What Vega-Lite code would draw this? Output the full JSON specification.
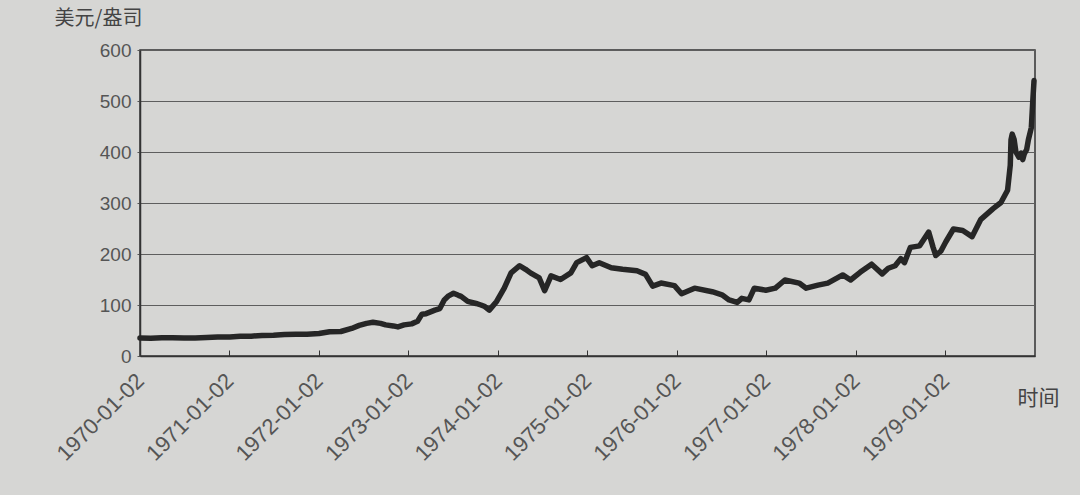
{
  "$schema": "https://vega.github.io/schema/vega-lite/v6.json",
  "autosize": "none",
  "width": 895,
  "height": 306,
  "padding": {"left": 140, "top": 50, "right": 45, "bottom": 139},
  "background": "#d6d6d4",
  "config": {
    "view": {"stroke": "#333333", "strokeWidth": 1.5, "fill": "#d6d6d4"},
    "font": "Liberation Sans"
  },
  "data": {
    "values": [
      {"date": "1970-01-02", "price": 35.2},
      {"date": "1970-02-15", "price": 35.0},
      {"date": "1970-04-01", "price": 35.6},
      {"date": "1970-05-15", "price": 35.8},
      {"date": "1970-07-01", "price": 35.3},
      {"date": "1970-08-15", "price": 35.4},
      {"date": "1970-10-01", "price": 36.2},
      {"date": "1970-11-15", "price": 37.4},
      {"date": "1971-01-04", "price": 37.4},
      {"date": "1971-02-15", "price": 38.8},
      {"date": "1971-04-01", "price": 38.9},
      {"date": "1971-05-15", "price": 40.2},
      {"date": "1971-07-01", "price": 40.8},
      {"date": "1971-08-15", "price": 42.0},
      {"date": "1971-10-01", "price": 42.5},
      {"date": "1971-11-15", "price": 42.8},
      {"date": "1972-01-03", "price": 44.0},
      {"date": "1972-02-15", "price": 47.5},
      {"date": "1972-04-01", "price": 48.0},
      {"date": "1972-05-15", "price": 54.0},
      {"date": "1972-06-15", "price": 60.0},
      {"date": "1972-07-15", "price": 64.0},
      {"date": "1972-08-10", "price": 66.0},
      {"date": "1972-09-10", "price": 64.0},
      {"date": "1972-10-01", "price": 61.0},
      {"date": "1972-11-01", "price": 59.0},
      {"date": "1972-11-20", "price": 57.0},
      {"date": "1972-12-15", "price": 61.0},
      {"date": "1973-01-15", "price": 63.0},
      {"date": "1973-02-08", "price": 68.0},
      {"date": "1973-02-26", "price": 82.0},
      {"date": "1973-03-15", "price": 83.0},
      {"date": "1973-04-20", "price": 90.0},
      {"date": "1973-05-10", "price": 93.0},
      {"date": "1973-05-28", "price": 110.0},
      {"date": "1973-06-15", "price": 118.0},
      {"date": "1973-07-05", "price": 123.0},
      {"date": "1973-07-25", "price": 119.0},
      {"date": "1973-08-05", "price": 117.0},
      {"date": "1973-09-01", "price": 107.0},
      {"date": "1973-10-05", "price": 103.0},
      {"date": "1973-10-25", "price": 100.0},
      {"date": "1973-11-10", "price": 97.0},
      {"date": "1973-11-28", "price": 90.0},
      {"date": "1973-12-28", "price": 107.0},
      {"date": "1974-01-28", "price": 133.0},
      {"date": "1974-02-25", "price": 163.0},
      {"date": "1974-04-01", "price": 177.0},
      {"date": "1974-04-25", "price": 170.0},
      {"date": "1974-05-15", "price": 163.0},
      {"date": "1974-06-20", "price": 153.0},
      {"date": "1974-07-12", "price": 128.0},
      {"date": "1974-08-07", "price": 157.0},
      {"date": "1974-09-15", "price": 150.0},
      {"date": "1974-10-27", "price": 163.0},
      {"date": "1974-11-20", "price": 183.0},
      {"date": "1974-12-30", "price": 193.0},
      {"date": "1975-01-22", "price": 177.0},
      {"date": "1975-02-20", "price": 183.0},
      {"date": "1975-04-10", "price": 173.0},
      {"date": "1975-05-26", "price": 170.0},
      {"date": "1975-07-24", "price": 167.0},
      {"date": "1975-08-28", "price": 160.0},
      {"date": "1975-09-26", "price": 137.0},
      {"date": "1975-10-30", "price": 143.0},
      {"date": "1975-12-24", "price": 138.0},
      {"date": "1976-01-22", "price": 122.0},
      {"date": "1976-03-15", "price": 133.0},
      {"date": "1976-05-26", "price": 126.0},
      {"date": "1976-07-05", "price": 120.0},
      {"date": "1976-08-03", "price": 110.0},
      {"date": "1976-09-05", "price": 105.0},
      {"date": "1976-09-24", "price": 113.0},
      {"date": "1976-10-23", "price": 110.0},
      {"date": "1976-11-14", "price": 133.0},
      {"date": "1976-12-31", "price": 129.0},
      {"date": "1977-02-08", "price": 133.0},
      {"date": "1977-03-19", "price": 149.0},
      {"date": "1977-05-16", "price": 143.0},
      {"date": "1977-06-14", "price": 133.0},
      {"date": "1977-08-01", "price": 139.0},
      {"date": "1977-09-10", "price": 143.0},
      {"date": "1977-11-10", "price": 159.0},
      {"date": "1977-12-12", "price": 149.0},
      {"date": "1978-01-20", "price": 164.0},
      {"date": "1978-03-08", "price": 180.0},
      {"date": "1978-04-20", "price": 161.0},
      {"date": "1978-05-15", "price": 172.0},
      {"date": "1978-06-12", "price": 177.0},
      {"date": "1978-07-05", "price": 191.0},
      {"date": "1978-07-20", "price": 183.0},
      {"date": "1978-08-13", "price": 213.0},
      {"date": "1978-09-20", "price": 216.0},
      {"date": "1978-10-27", "price": 243.0},
      {"date": "1978-11-14", "price": 213.0},
      {"date": "1978-11-25", "price": 197.0},
      {"date": "1978-12-16", "price": 206.0},
      {"date": "1979-01-05", "price": 224.0},
      {"date": "1979-02-05", "price": 249.0},
      {"date": "1979-03-15", "price": 246.0},
      {"date": "1979-04-22", "price": 234.0},
      {"date": "1979-05-28", "price": 268.0},
      {"date": "1979-07-17", "price": 289.0},
      {"date": "1979-08-18", "price": 301.0},
      {"date": "1979-09-14", "price": 325.0},
      {"date": "1979-09-25", "price": 374.0},
      {"date": "1979-09-28", "price": 424.0},
      {"date": "1979-10-03", "price": 435.0},
      {"date": "1979-10-11", "price": 424.0},
      {"date": "1979-10-18", "price": 400.0},
      {"date": "1979-10-30", "price": 390.0},
      {"date": "1979-11-08", "price": 398.0},
      {"date": "1979-11-15", "price": 385.0},
      {"date": "1979-11-21", "price": 396.0},
      {"date": "1979-12-01", "price": 405.0},
      {"date": "1979-12-08", "price": 424.0},
      {"date": "1979-12-20", "price": 448.0},
      {"date": "1979-12-26", "price": 500.0},
      {"date": "1979-12-31", "price": 540.0}
    ]
  },
  "mark": {"type": "line", "color": "#262626", "strokeWidth": 5.5, "strokeJoin": "round", "strokeCap": "round"},
  "encoding": {
    "x": {
      "field": "date",
      "type": "temporal",
      "scale": {"domain": ["1970-01-02", "1980-01-04"]},
      "axis": {
        "title": "时间",
        "titleX": 898,
        "titleY": 42,
        "titleAlign": "center",
        "titleBaseline": "middle",
        "titleAngle": 0,
        "titleFontSize": 21,
        "titleFontWeight": "normal",
        "titleColor": "#444444",
        "titleFont": "Noto Sans CJK SC",
        "values": ["1970-01-02", "1971-01-02", "1972-01-02", "1973-01-02", "1974-01-02", "1975-01-02", "1976-01-02", "1977-01-02", "1978-01-02", "1979-01-02"],
        "format": "%Y-%m-%d",
        "labelAngle": -45,
        "labelAlign": "right",
        "labelBaseline": "middle",
        "labelFontSize": 22,
        "labelColor": "#555555",
        "labelPadding": 27,
        "labelOverlap": false,
        "labelFlush": false,
        "grid": false,
        "tickSize": -6,
        "tickColor": "#333333",
        "domainColor": "#333333",
        "domainWidth": 1.5
      }
    },
    "y": {
      "field": "price",
      "type": "quantitative",
      "scale": {"domain": [0, 600]},
      "axis": {
        "title": "美元/盎司",
        "titleAngle": 0,
        "titleX": -42,
        "titleY": -32,
        "titleAlign": "center",
        "titleBaseline": "middle",
        "titleFontSize": 20,
        "titleFontWeight": "normal",
        "titleColor": "#444444",
        "titleFont": "Noto Sans CJK SC",
        "values": [0, 100, 200, 300, 400, 500, 600],
        "labelFontSize": 19,
        "labelColor": "#555555",
        "labelPadding": 6,
        "tickSize": 3,
        "tickColor": "#555555",
        "grid": true,
        "gridColor": "#5e5e5e",
        "gridWidth": 1.2,
        "domainColor": "#333333",
        "domainWidth": 1.5
      }
    }
  }
}
